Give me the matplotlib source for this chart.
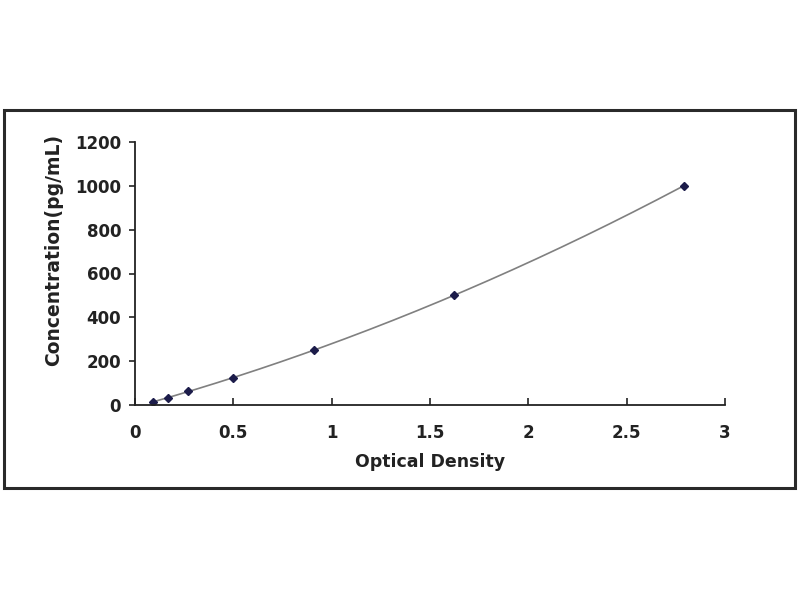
import numpy as np
import matplotlib
matplotlib.use("Agg")
from matplotlib import pyplot as plt
from matplotlib.patches import Rectangle

# standard curve points
od = [0.09, 0.17, 0.27, 0.50, 0.91, 1.62, 2.79]
conc = [15.6, 31.25, 62.5, 125, 250, 500, 1000]
xTicks = [0, 0.5, 1, 1.5, 2, 2.5, 3]
xTickLabels = ["0", "0.5", "1", "1.5", "2", "2.5", "3"]
yTicks = [0, 200, 400, 600, 800, 1000, 1200]

plt.rcParams['font.family'] = ['DejaVu Sans']
plt.rcParams['font.weight'] = 'bold'

fig = plt.figure(figsize=(8, 6), dpi=100)

# outer frame around the chart
frame = Rectangle((4 / 800, 1 - 488 / 600), 791 / 800, 378 / 600,
                  transform=fig.transFigure, fill=False,
                  edgecolor='#2a2a2a', linewidth=2.2)
fig.patches.append(frame)

ax = fig.add_axes([135 / 800, 1 - 405 / 600, 590 / 800, 263 / 600])

# trendline through the standards
coef = np.polyfit(od, conc, 2)
xs = np.linspace(min(od), max(od), 200)
ax.plot(xs, np.polyval(coef, xs), color='#808080', lw=1.2)
ax.plot(od, conc, linestyle='none', marker='D', markersize=4,
        color='#1c1c4a')

ax.set_xlim(0, 3)
ax.set_ylim(0, 1200)
ax.set_xticks(xTicks)
ax.set_xticklabels(xTickLabels)
ax.set_yticks(yTicks)

for s in ['top', 'right']:
    ax.spines[s].set_visible(False)
for s in ['left', 'bottom']:
    ax.spines[s].set_linewidth(1.3)
    ax.spines[s].set_color('#222222')

ax.tick_params(axis='x', direction='in', length=5, width=1.2, pad=14,
               labelsize=12, colors='#222222')
ax.tick_params(axis='y', direction='out', length=4, width=1.2, pad=6,
               labelsize=12, colors='#222222')
for t in ax.get_xticklabels() + ax.get_yticklabels():
    t.set_fontweight('bold')

fig.text(54 / 800, 1 - 250 / 600, "Concentration(pg/mL)", rotation=90,
         ha='center', va='center', fontsize=13.5, fontweight='bold',
         color='#222222')
fig.text(430 / 800, 1 - 462 / 600, "Optical Density", ha='center',
         va='center', fontsize=12.5, fontweight='bold', color='#222222')

fig.savefig("out.png", dpi=100)
